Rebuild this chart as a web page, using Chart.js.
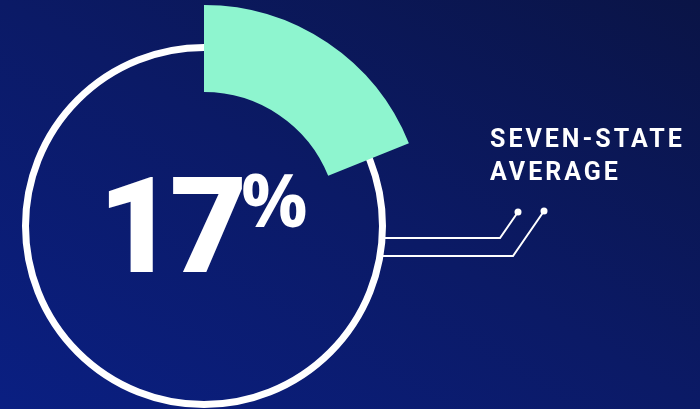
<!DOCTYPE html>
<html>
<head>
<meta charset="utf-8">
<script src="https://cdn.jsdelivr.net/npm/chart.js@4/dist/chart.umd.min.js"></script>
<style>
    html, body { margin: 0; padding: 0; }
    #wrap {
        position: relative;
        width: 700px;
        height: 409px;
        overflow: hidden;
        background: linear-gradient(to top right, #0a1f82 0%, #0b1a66 50%, #0a1446 100%);
        font-family: Roboto, "Open Sans", sans-serif;
        color: #ffffff;
    }
    #chart { position: absolute; left: 0; top: 0; }
    .big {
        position: absolute;
        left: 98px;
        top: 160px;
        font-size: 134px;
        line-height: 134px;
        font-weight: 900;
        letter-spacing: -6px;
    }
    .pct {
        position: absolute;
        left: 241px;
        top: 162px;
        font-family: "Open Sans", sans-serif;
        font-size: 74px;
        line-height: 74px;
        font-weight: 700;
    }
    .label {
        position: absolute;
        left: 490px;
        top: 122px;
        font-size: 25px;
        line-height: 33px;
        font-weight: 700;
        letter-spacing: 3px;
    }
</style>
</head>
<body>
<div id="wrap">
    <canvas id="chart" width="700" height="409"></canvas>
    <div class="big" id="bigValue"></div>
    <div class="pct">%</div>
    <div class="label" id="label"></div>
</div>
<script>
document.addEventListener("DOMContentLoaded", function () {
    const categories = ["Seven-state average", "Rest"];
    const shares = [17, 83];
    const labelLines = ["SEVEN-STATE", "AVERAGE"];

    document.getElementById("bigValue").innerText = shares[0];
    document.getElementById("label").innerHTML = labelLines.join("<br>");

    // white ring behind the wedge + the two connector lines
    const decor = {
        id: "decor",
        beforeDatasetsDraw(chart) {
            const arc = chart.getDatasetMeta(0).data[0];
            const ctx = chart.ctx;
            ctx.save();
            ctx.strokeStyle = "#ffffff";
            ctx.lineWidth = 7;
            ctx.beginPath();
            ctx.arc(arc.x, arc.y, 178.5, 0, Math.PI * 2);
            ctx.stroke();

            ctx.lineWidth = 2;
            ctx.beginPath();
            ctx.moveTo(arc.x + 180, 238);
            ctx.lineTo(500, 238);
            ctx.lineTo(518, 212);
            ctx.moveTo(arc.x + 178, 256);
            ctx.lineTo(513, 256);
            ctx.lineTo(544, 211);
            ctx.stroke();

            ctx.fillStyle = "#ffffff";
            [[518, 212], [544, 211]].forEach(p => {
                ctx.beginPath();
                ctx.arc(p[0], p[1], 3.5, 0, Math.PI * 2);
                ctx.fill();
            });
            ctx.restore();
        }
    };

    new Chart(document.getElementById("chart"), {
        type: "doughnut",
        data: {
            labels: categories,
            datasets: [{
                data: shares,
                backgroundColor: ["#8ef5cf", "rgba(0,0,0,0)"],
                borderWidth: 0
            }]
        },
        options: {
            responsive: false,
            animation: false,
            radius: 221,
            cutout: "60.6%",
            rotation: 0,
            // the artwork stretches the wedge a little past a true 17%
            circumference: 400,
            layout: { padding: { left: 0, right: 292, top: 43, bottom: 0 } },
            plugins: {
                legend: { display: false },
                tooltip: { enabled: false }
            }
        },
        plugins: [decor]
    });
});
</script>
</body>
</html>
